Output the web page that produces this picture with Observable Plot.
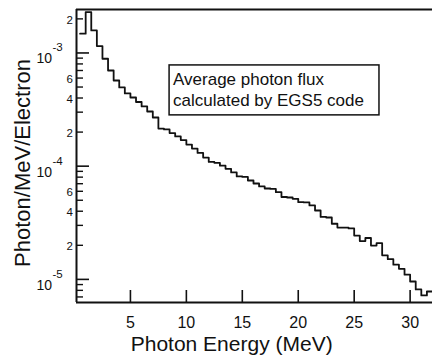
<!DOCTYPE html>
<html>
<head>
<meta charset="utf-8">
<script src="https://cdn.jsdelivr.net/npm/d3@7"></script>
<script src="https://cdn.jsdelivr.net/npm/@observablehq/plot@0.6"></script>
<style>
  html, body { margin: 0; padding: 0; background: #fff; }
  #chart { width: 432px; height: 360px; }
</style>
</head>
<body>
<div id="chart"></div>
<script>
// ---- data ----
const binStart = [0.5, 1.0, 1.5, 2.0, 2.5, 3.0, 3.5, 4.0, 4.5, 5.0, 5.5, 6.0, 6.5, 7.0, 7.5, 8.0,
  8.5, 9.0, 9.5, 10.0, 10.5, 11.0, 11.5, 12.0, 12.5, 13.0, 13.5, 14.0, 14.5, 15.0, 15.5, 16.0,
  16.5, 17.0, 17.5, 18.0, 18.5, 19.0, 19.5, 20.0, 20.5, 21.0, 21.5, 22.0, 22.5, 23.0, 23.5, 24.0,
  24.5, 25.0, 25.5, 26.0, 26.5, 27.0, 27.5, 28.0, 28.5, 29.0, 29.5, 30.0, 30.5, 31.0, 31.5];
const flux = [1.48e-3, 2.29e-3, 1.58e-3, 1.15e-3, 8.89e-4, 7.00e-4, 5.71e-4, 4.96e-4, 4.39e-4,
  4.04e-4, 3.69e-4, 3.37e-4, 3.04e-4, 2.69e-4, 2.15e-4, 2.11e-4, 1.96e-4, 1.83e-4, 1.70e-4,
  1.55e-4, 1.43e-4, 1.31e-4, 1.19e-4, 1.09e-4, 1.07e-4, 1.01e-4, 9.48e-5, 8.80e-5, 8.11e-5,
  8.03e-5, 7.47e-5, 7.03e-5, 6.62e-5, 6.35e-5, 6.29e-5, 5.89e-5, 5.34e-5, 5.29e-5, 5.15e-5,
  4.81e-5, 4.78e-5, 4.50e-5, 4.06e-5, 3.56e-5, 3.52e-5, 3.10e-5, 2.87e-5, 2.86e-5, 2.82e-5,
  2.44e-5, 2.18e-5, 2.32e-5, 1.99e-5, 2.09e-5, 1.63e-5, 1.51e-5, 1.35e-5, 1.24e-5, 1.10e-5,
  9.58e-6, 8.15e-6, 7.21e-6, 7.82e-6];
const lastBinEnd = 32;

const xTicks = [5, 10, 15, 20, 25, 30];
const yDecades = [1e-3, 1e-4, 1e-5];
const yDecadeExp = ["-3", "-4", "-5"];
const yMinor = [2e-3, 9e-4, 8e-4, 7e-4, 6e-4, 5e-4, 4e-4, 3e-4, 2e-4,
  9e-5, 8e-5, 7e-5, 6e-5, 5e-5, 4e-5, 3e-5, 2e-5, 9e-6, 8e-6, 7e-6];
const yMinorLabeled = [2e-3, 6e-4, 4e-4, 2e-4, 6e-5, 4e-5, 2e-5];
const yMinorText = ["2", "6", "4", "2", "6", "4", "2"];

const xLabel = "Photon Energy (MeV)";
const yLabel = "Photon/MeV/Electron";
const noteLines = ["Average photon flux", "calculated by EGS5 code"];

// ---- layout ----
const W = 432, H = 360;
const mL = 76, mR = 0, mT = 9, mB = 58;
const xDom = [0.18, 32];
const yDom = [6.25e-6, 2.42e-3];
const plotW = W - mL - mR, plotH = H - mT - mB;
const font = "'Liberation Sans', Arial, Helvetica, sans-serif";
const ink = "#111";

// tick lengths in pixels converted through the scale geometry
const xPx = px => xDom[0] + px * (xDom[1] - xDom[0]) / plotW;
const yPx = px => yDom[0] * Math.pow(yDom[1] / yDom[0], px / plotH);

const series = binStart.map((x, i) => ({x, y: flux[i]}));
series.push({x: lastBinEnd, y: flux[flux.length - 1]});

// annotation box in data units
const note = {x1: 8.5, x2: 27.26, y1: 2.81e-4, y2: 7.76e-4, tx: 8.81, ty: [5.16e-4, 3.37e-4]};

const chart = Plot.plot({
  width: W, height: H,
  marginLeft: mL, marginRight: mR, marginTop: mT, marginBottom: mB,
  style: {fontFamily: font, background: "#fff", overflow: "visible"},
  x: {domain: xDom, axis: null},
  y: {type: "log", domain: yDom, axis: null},
  marks: [
    // frame (top, bottom, left)
    Plot.ruleY([yDom[1]], {stroke: ink, strokeWidth: 2}),
    Plot.ruleY([yDom[0]], {stroke: ink, strokeWidth: 2}),
    Plot.ruleX([xDom[0]], {stroke: ink, strokeWidth: 2}),
    // y ticks (inward)
    Plot.ruleY(yDecades, {y: d => d, x1: xDom[0], x2: xPx(13), stroke: ink, strokeWidth: 1.6}),
    Plot.ruleY(yMinor, {y: d => d, x1: xDom[0], x2: xPx(7), stroke: ink, strokeWidth: 1.4}),
    // x ticks (inward)
    Plot.ruleX(xTicks, {x: d => d, y1: yDom[0], y2: yPx(12), stroke: ink, strokeWidth: 1.6}),
    // histogram
    Plot.line(series, {x: "x", y: "y", curve: "step-after", stroke: ink, strokeWidth: 1.8}),
    // annotation
    Plot.rect([note], {x1: "x1", x2: "x2", y1: "y1", y2: "y2", fill: "none", stroke: ink, strokeWidth: 1.5}),
    Plot.text(noteLines, {x: note.tx, y: (d, i) => note.ty[i], text: d => d, textAnchor: "start",
      lineAnchor: "bottom", fontSize: 17, fill: ink}),
    // x tick labels
    Plot.text(xTicks, {x: d => d, frameAnchor: "bottom", text: d => String(d), dy: 25,
      textAnchor: "middle", lineAnchor: "bottom", fontSize: 16, fill: ink}),
    // y decade labels
    Plot.text(yDecades, {y: d => d, frameAnchor: "left", text: () => "10", dx: -24.5, dy: 10.5,
      textAnchor: "end", lineAnchor: "bottom", fontSize: 14, fill: ink}),
    Plot.text(yDecades, {y: d => d, frameAnchor: "left", text: (d, i) => yDecadeExp[i], dx: -24, dy: -1.5,
      textAnchor: "start", lineAnchor: "bottom", fontSize: 11.5, fill: ink}),
    // minor labels
    Plot.text(yMinorLabeled, {y: d => d, frameAnchor: "left", text: (d, i) => yMinorText[i], dx: -3.5, dy: 1.5,
      textAnchor: "end", lineAnchor: "middle", fontSize: 11.5, fill: ink}),
    // axis titles
    Plot.text([xLabel], {x: 14.05, frameAnchor: "bottom", text: d => d, dy: 48, textAnchor: "middle",
      lineAnchor: "bottom", fontSize: 21, fill: ink}),
    Plot.text([yLabel], {y: 1.067e-4, frameAnchor: "left", text: d => d, dx: -46.7, rotate: -90,
      textAnchor: "middle", lineAnchor: "bottom", fontSize: 22, fill: ink})
  ]
});
document.getElementById("chart").appendChild(chart);
</script>
</body>
</html>
